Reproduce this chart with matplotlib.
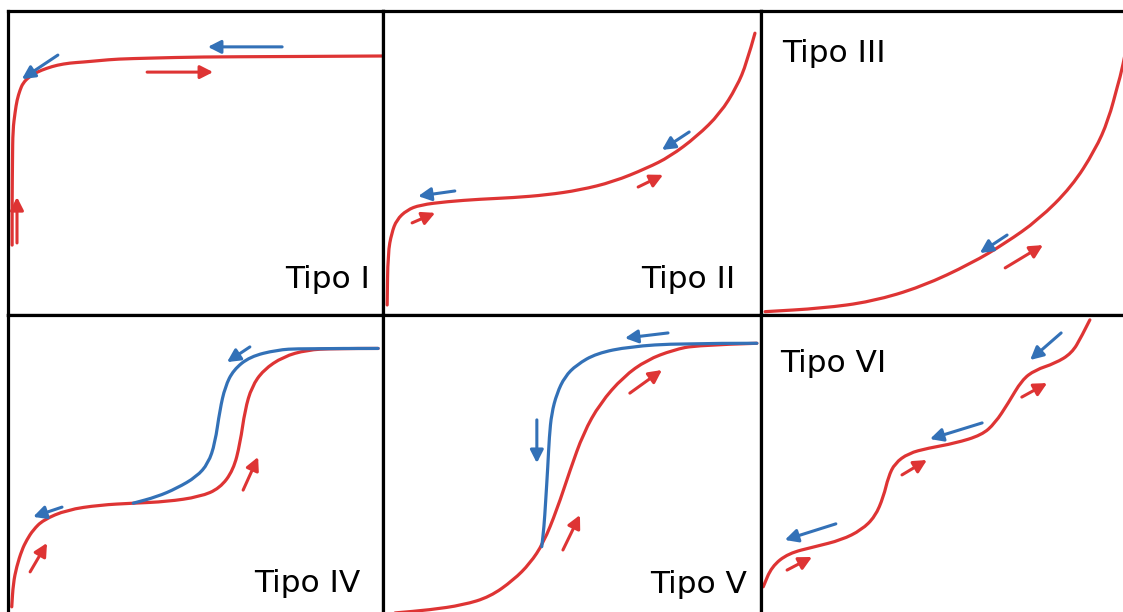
import matplotlib
matplotlib.use("Agg")
import matplotlib.pyplot as plt
from matplotlib.path import Path
from matplotlib.patches import PathPatch

# ---------------------------------------------------------------
# IUPAC adsorption isotherm types (x: relative pressure P/P0,
# y: adsorbed amount, both normalised to 0..1 within each panel)
# ---------------------------------------------------------------
labels = ["Tipo I", "Tipo II", "Tipo III", "Tipo IV", "Tipo V", "Tipo VI"]

# Type I
tipo1_x = [0.011, 0.011, 0.012, 0.013, 0.019, 0.024, 0.032, 0.040, 0.056, 0.077,
           0.104, 0.131, 0.165, 0.200, 0.245, 0.291, 0.379, 0.512, 0.725, 1.0]
tipo1_y = [0.230, 0.378, 0.510, 0.609, 0.668, 0.707, 0.740, 0.763, 0.783, 0.799,
           0.812, 0.822, 0.829, 0.832, 0.837, 0.842, 0.845, 0.849, 0.850, 0.852]

# Type II
tipo2_x = [0.011, 0.013, 0.023, 0.036, 0.063, 0.098, 0.169, 0.257, 0.345, 0.433,
           0.521, 0.609, 0.698, 0.759, 0.830, 0.892, 0.936, 0.962, 0.984]
tipo2_y = [0.033, 0.204, 0.270, 0.313, 0.345, 0.362, 0.373, 0.381, 0.386, 0.395,
           0.411, 0.438, 0.483, 0.521, 0.587, 0.663, 0.751, 0.828, 0.927]

# Type III
tipo3_x = [0.011, 0.161, 0.293, 0.425, 0.557, 0.646, 0.734, 0.822, 0.884, 0.919,
           0.945, 0.955, 0.971]
tipo3_y = [0.011, 0.022, 0.044, 0.093, 0.170, 0.236, 0.313, 0.422, 0.543, 0.641,
           0.762, 0.806, 0.905]

# Type IV: adsorption branch and desorption (hysteresis) branch
tipo4_ads_x = [0.010, 0.014, 0.023, 0.037, 0.050, 0.067, 0.094, 0.157, 0.245, 0.334,
               0.423, 0.512, 0.565, 0.601, 0.619, 0.632, 0.650, 0.681, 0.734, 0.797,
               0.868, 0.987]
tipo4_ads_y = [0.040, 0.117, 0.172, 0.227, 0.260, 0.293, 0.326, 0.359, 0.375, 0.381,
               0.386, 0.402, 0.430, 0.490, 0.578, 0.688, 0.764, 0.819, 0.863, 0.885,
               0.890, 0.890]
tipo4_des_x = [0.334, 0.397, 0.450, 0.503, 0.534, 0.552, 0.565, 0.579, 0.601, 0.645,
               0.717, 0.779, 0.987]
tipo4_des_y = [0.381, 0.402, 0.430, 0.468, 0.512, 0.578, 0.688, 0.764, 0.819, 0.863,
               0.885, 0.890, 0.890]

# Type V: adsorption branch and desorption (hysteresis) branch
tipo5_ads_x = [0.032, 0.124, 0.212, 0.283, 0.345, 0.389, 0.424, 0.460, 0.495, 0.530,
               0.574, 0.636, 0.698, 0.768, 0.830, 0.989]
tipo5_ads_y = [0.020, 0.030, 0.046, 0.073, 0.128, 0.183, 0.249, 0.359, 0.490, 0.611,
               0.709, 0.797, 0.852, 0.885, 0.901, 0.907]
tipo5_des_x = [0.420, 0.426, 0.430, 0.436, 0.440, 0.446, 0.460, 0.481, 0.512, 0.565,
               0.653, 0.786, 0.989]
tipo5_des_y = [0.238, 0.304, 0.381, 0.501, 0.600, 0.676, 0.742, 0.797, 0.836, 0.874,
               0.896, 0.907, 0.907]

# Type VI (stepwise multilayer)
tipo6_x = [0.006, 0.028, 0.072, 0.143, 0.213, 0.266, 0.302, 0.324, 0.337, 0.354,
           0.390, 0.442, 0.513, 0.584, 0.619, 0.654, 0.690, 0.725, 0.778, 0.822,
           0.848, 0.870]
tipo6_y = [0.106, 0.172, 0.216, 0.238, 0.260, 0.293, 0.337, 0.402, 0.468, 0.512,
           0.545, 0.562, 0.578, 0.605, 0.644, 0.710, 0.786, 0.819, 0.841, 0.874,
           0.929, 0.984]

# Direction arrows: (x_start, y_start, x_end, y_end)
ads_arrows = [
    [(0.024, 0.237, 0.024, 0.388), (0.371, 0.799, 0.547, 0.799)],
    [(0.077, 0.303, 0.138, 0.336), (0.675, 0.421, 0.741, 0.461)],
    [(0.646, 0.155, 0.746, 0.230)],
    [(0.627, 0.424, 0.667, 0.533), (0.059, 0.155, 0.104, 0.250)],
    [(0.653, 0.743, 0.738, 0.819), (0.476, 0.227, 0.521, 0.342)],
    [(0.690, 0.730, 0.757, 0.776), (0.373, 0.474, 0.439, 0.523),
     (0.069, 0.161, 0.135, 0.204)],
]
des_arrows = [
    [(0.731, 0.882, 0.533, 0.882), (0.133, 0.855, 0.037, 0.776)],
    [(0.190, 0.408, 0.093, 0.391), (0.810, 0.602, 0.738, 0.543)],
    [(0.651, 0.263, 0.579, 0.204)],
    [(0.645, 0.895, 0.584, 0.845), (0.144, 0.368, 0.067, 0.336)],
    [(0.754, 0.941, 0.640, 0.924), (0.407, 0.655, 0.407, 0.513)],
    [(0.794, 0.941, 0.712, 0.852), (0.585, 0.645, 0.447, 0.592),
     (0.198, 0.313, 0.063, 0.260)],
]

RED = "#de3434"
BLUE = "#3371b7"

W, H = 1123, 612
fig = plt.figure(figsize=(W / 100, H / 100), dpi=100)
fig.patch.set_facecolor("white")

col_left = [8, 383, 761]
col_width = [375, 378, 378]
row_top = [11, 315]
row_height = 304

axes = []
for r in range(2):
    for c in range(3):
        ax = fig.add_axes([col_left[c] / W,
                           1 - (row_top[r] + row_height) / H,
                           col_width[c] / W,
                           row_height / H])
        ax.set_xlim(0, 1)
        ax.set_ylim(0, 1)
        ax.set_xticks([])
        ax.set_yticks([])
        for sp in ax.spines.values():
            sp.set_color("black")
            sp.set_linewidth(2.3)
            sp.set_zorder(5)
        axes.append(ax)


def smooth_curve(ax, xs, ys, color):
    """Draw a rounded isotherm: the measured points act as quadratic
    Bezier control points, joined at the midpoints between them."""
    pts = list(zip(xs, ys))
    verts = [pts[0]]
    codes = [Path.MOVETO]
    mid = lambda a, b: ((a[0] + b[0]) / 2, (a[1] + b[1]) / 2)
    verts.append(mid(pts[0], pts[1]))
    codes.append(Path.LINETO)
    for i in range(1, len(pts) - 1):
        end = mid(pts[i], pts[i + 1]) if i < len(pts) - 2 else pts[i + 1]
        verts += [pts[i], end]
        codes += [Path.CURVE3, Path.CURVE3]
    patch = PathPatch(Path(verts, codes), fill=False, edgecolor=color, lw=2.3,
                      capstyle="round", joinstyle="round", zorder=2)
    ax.add_patch(patch)


smooth_curve(axes[0], tipo1_x, tipo1_y, RED)
smooth_curve(axes[1], tipo2_x, tipo2_y, RED)
smooth_curve(axes[2], tipo3_x, tipo3_y, RED)
smooth_curve(axes[3], tipo4_ads_x, tipo4_ads_y, RED)
smooth_curve(axes[3], tipo4_des_x, tipo4_des_y, BLUE)
smooth_curve(axes[4], tipo5_ads_x, tipo5_ads_y, RED)
smooth_curve(axes[4], tipo5_des_x, tipo5_des_y, BLUE)
smooth_curve(axes[5], tipo6_x, tipo6_y, RED)


def draw_arrow(ax, seg, color):
    x0, y0, x1, y1 = seg
    ax.annotate("", xy=(x1, y1), xytext=(x0, y0),
                arrowprops=dict(arrowstyle="-|>,head_length=0.55,head_width=0.28",
                                color=color, lw=2.2, mutation_scale=14,
                                shrinkA=0, shrinkB=0))


for ax, segs in zip(axes, ads_arrows):
    for s in segs:
        draw_arrow(ax, s, RED)
for ax, segs in zip(axes, des_arrows):
    for s in segs:
        draw_arrow(ax, s, BLUE)

# Panel labels
label_pos = [(0.965, 0.089, "right"), (0.931, 0.089, "right"), (0.056, 0.832, "left"),
             (0.939, 0.089, "right"), (0.963, 0.086, "right"), (0.050, 0.812, "left")]
for ax, text, (lx, ly, ha) in zip(axes, labels, label_pos):
    ax.text(lx, ly, text, transform=ax.transAxes, ha=ha, va="baseline",
            fontsize=22.5, family="DejaVu Sans", color="black", zorder=6)

fig.savefig("out.png", dpi=100, facecolor="white")
